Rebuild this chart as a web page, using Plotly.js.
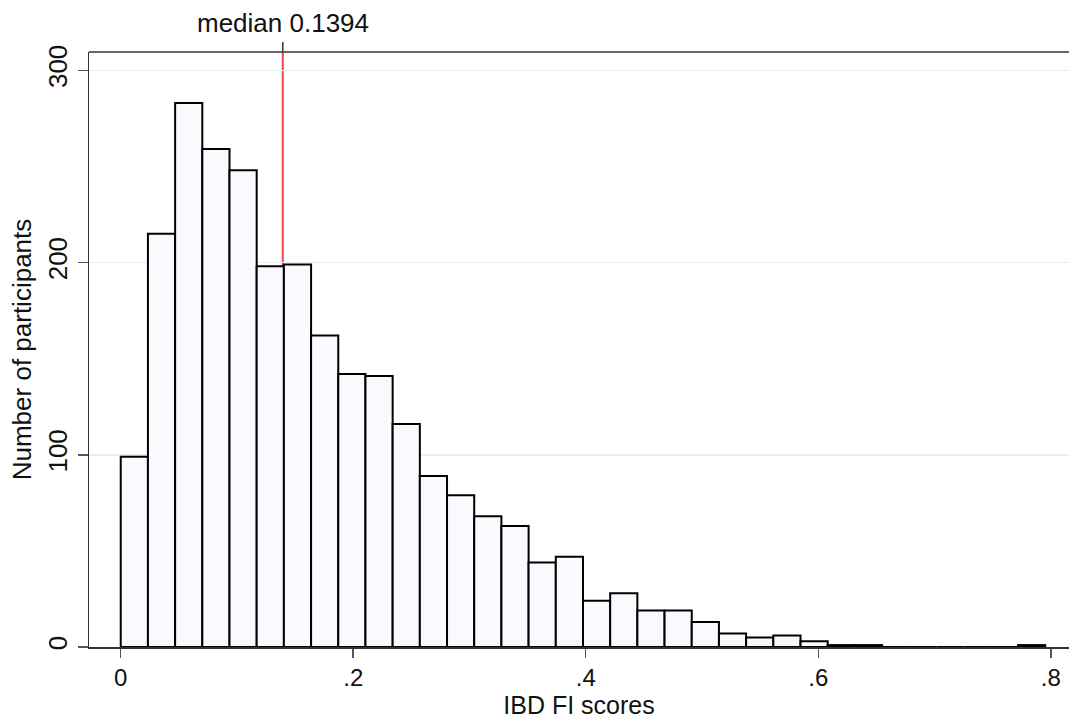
<!DOCTYPE html>
<html>
<head>
<meta charset="utf-8">
<script src="https://cdn.plot.ly/plotly-3.0.1.min.js"></script>
<style>
  html, body { margin: 0; padding: 0; background: #ffffff; }
  #chart { width: 1072px; height: 721px; }
</style>
</head>
<body>
<div id="chart"></div>
<script>
// Histogram of IBD FI scores (34 bins starting at 0)
const binStart = 0;
const binWidth = 0.02339;
const counts = [99, 215, 283, 259, 248, 198, 199, 162, 142, 141, 116, 89, 79, 68, 63, 44, 47,
                24, 28, 19, 19, 13, 7, 5, 6, 3, 1, 1, 0, 0, 0, 0, 0, 1];
const xTickVals = [0, 0.2, 0.4, 0.6, 0.8];
const xTickText = ["0", ".2", ".4", ".6", ".8"];
const yTickVals = [0, 100, 200, 300];
const yTickText = ["0", "100", "200", "300"];
const medianValue = 0.1394;
const medianLabel = "median 0.1394";
const xTitle = "IBD FI scores";
const yTitle = "Number of participants";

const binCenters = counts.map((_, i) => binStart + (i + 0.5) * binWidth);

const fam = '"Liberation Sans", Arial, Helvetica, sans-serif';
const font = { family: fam, size: 26, color: '#111111' };
const xTickFont = { family: fam, size: 24, color: '#111111' };
const xTitleFont = { family: fam, size: 25, color: '#111111' };

const traces = [
  {
    type: 'bar',
    x: binCenters,
    y: counts,
    width: binWidth,
    marker: { color: '#fbf9fd', line: { color: '#000000', width: 2 } },
    hoverinfo: 'x+y',
    showlegend: false
  }
];

const plotH = 721 - 52 - 74;

const layout = {
  width: 1072,
  height: 721,
  margin: { l: 89, r: 3, t: 52, b: 74 },
  paper_bgcolor: '#ffffff',
  plot_bgcolor: '#ffffff',
  font: font,
  bargap: 0,
  showlegend: false,
  xaxis: {
    range: [-0.0273, 0.8157],
    tickmode: 'array',
    tickvals: xTickVals,
    ticktext: xTickText,
    ticks: 'outside',
    ticklen: 9,
    tickwidth: 1.5,
    tickcolor: '#555555',
    showline: true,
    linecolor: '#333333',
    linewidth: 1.5,
    showgrid: false,
    zeroline: false,
    tickfont: xTickFont,
    title: { text: xTitle, font: xTitleFont, standoff: 3 }
  },
  yaxis: {
    range: [0, 309.5],
    tickmode: 'array',
    tickvals: yTickVals,
    ticktext: yTickText,
    tickangle: -90,
    ticks: 'outside',
    ticklen: 10,
    tickwidth: 1.5,
    tickcolor: '#555555',
    showline: true,
    linecolor: '#333333',
    linewidth: 1.5,
    showgrid: true,
    gridcolor: '#e6eef0',
    gridwidth: 1.5,
    zeroline: false,
    tickfont: font,
    title: { text: yTitle, font: font, standoff: 4 }
  },
  shapes: [
    {
      type: 'line',
      xref: 'x', yref: 'paper',
      x0: medianValue, x1: medianValue,
      y0: 0, y1: 1,
      line: { color: '#f04848', width: 2 },
      layer: 'below'
    },
    {
      type: 'line',
      xref: 'paper', yref: 'paper',
      x0: 0, x1: 1, y0: 1, y1: 1,
      line: { color: '#333333', width: 1.5 }
    },
    {
      type: 'line',
      xref: 'x', yref: 'paper',
      x0: medianValue, x1: medianValue,
      y0: 1, y1: 1 + 10 / plotH,
      line: { color: '#333333', width: 1.5 }
    }
  ],
  annotations: [
    {
      xref: 'x', yref: 'paper',
      x: medianValue, y: 1 + 10 / plotH,
      xanchor: 'center', yanchor: 'bottom',
      yshift: 2,
      showarrow: false,
      text: medianLabel,
      font: font
    }
  ]
};

Plotly.newPlot('chart', traces, layout, { displayModeBar: false, staticPlot: true });
</script>
</body>
</html>
